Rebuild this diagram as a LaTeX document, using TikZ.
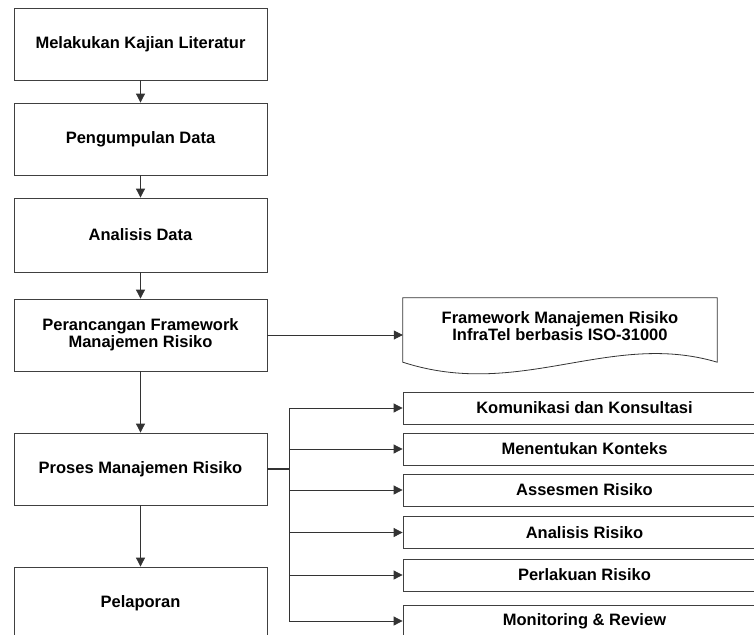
\documentclass[tikz,border=0pt]{standalone}
\usepackage{fontspec}
\setmainfont{Liberation Sans}
\usetikzlibrary{arrows.meta,calc}

\begin{document}
\begin{tikzpicture}[x=1pt, y=-1pt,
    kotak/.style={draw=black!75, line width=0.8pt, inner sep=0pt,
        minimum width=253pt, minimum height=72pt, align=center,
        font=\bfseries\fontsize{16.5}{17}\selectfont},
    kotakkecil/.style={kotak, minimum width=363pt, minimum height=32pt},
    garis/.style={draw=black!80, line width=0.8pt},
    panah/.style={garis, -{Triangle[length=9pt,width=9pt]}}
    ]
    \useasboundingbox (0,0) rectangle (754,634);
    \clip (0,0) rectangle (754,634);    % 右侧和底部被裁切

    % 左侧主流程
    \node[kotak] (kajian) at (140.5,44) {Melakukan Kajian Literatur};
    \node[kotak] (kumpul) at (140.5,139) {Pengumpulan Data};
    \node[kotak, minimum height=74pt] (analisis) at (140.5,235) {Analisis Data};
    \node[kotak] (rancang) at (140.5,335) {Perancangan Framework\\Manajemen Risiko};
    \node[kotak] (proses) at (140.5,469) {Proses Manajemen Risiko};
    \node[kotak] (lapor) at (140.5,603) {Pelaporan};

    \draw[panah] (kajian) -- (kumpul);
    \draw[panah] (kumpul) -- (analisis);
    \draw[panah] (analisis) -- (rancang);
    \draw[panah] (rancang) -- (proses);
    \draw[panah] (proses) -- (lapor);

    % 文档形状
    \node[
        minimum width=314pt,
        minimum height=56pt,
        inner sep=0pt,
        align=center,
        font=\bfseries\fontsize{16.5}{17}\selectfont
        ] (framework) at (560,326) {Framework Manajemen Risiko\\InfraTel berbasis ISO-31000};
    \coordinate (dkiri) at ($(framework.south west)+(0,8)$);
    \coordinate (dkanan) at ($(framework.south east)+(0,8)$);
    \draw[garis] (dkiri) -- (framework.north west) -- (framework.north east) -- (dkanan)
        .. controls +(-107,-32) and +(117,38) .. (dkiri) -- cycle;
    \draw[panah] (rancang.east) -- (rancang.east -| framework.west);

    % 右侧子流程
    \foreach \nama/\teks/\y in {komunikasi/Komunikasi dan Konsultasi/408,
        konteks/Menentukan Konteks/449, assesmen/Assesmen Risiko/490,
        analrisiko/Analisis Risiko/532.5, perlakuan/Perlakuan Risiko/575,
        monitoring/Monitoring \& Review/621}
        \node[kotakkecil] (\nama) at (584.5,\y) {\teks};

    \coordinate (bus) at ($(proses.east)+(22,0)$);
    \draw[garis, line width=1.4pt] (proses.east) -- (bus);
    \draw[garis] (bus |- komunikasi.west) -- (bus |- monitoring.west);
    \foreach \nama in {komunikasi,konteks,assesmen,analrisiko,perlakuan,monitoring}
        \draw[panah] (bus |- \nama.west) -- (\nama.west);
\end{tikzpicture}
\end{document}
